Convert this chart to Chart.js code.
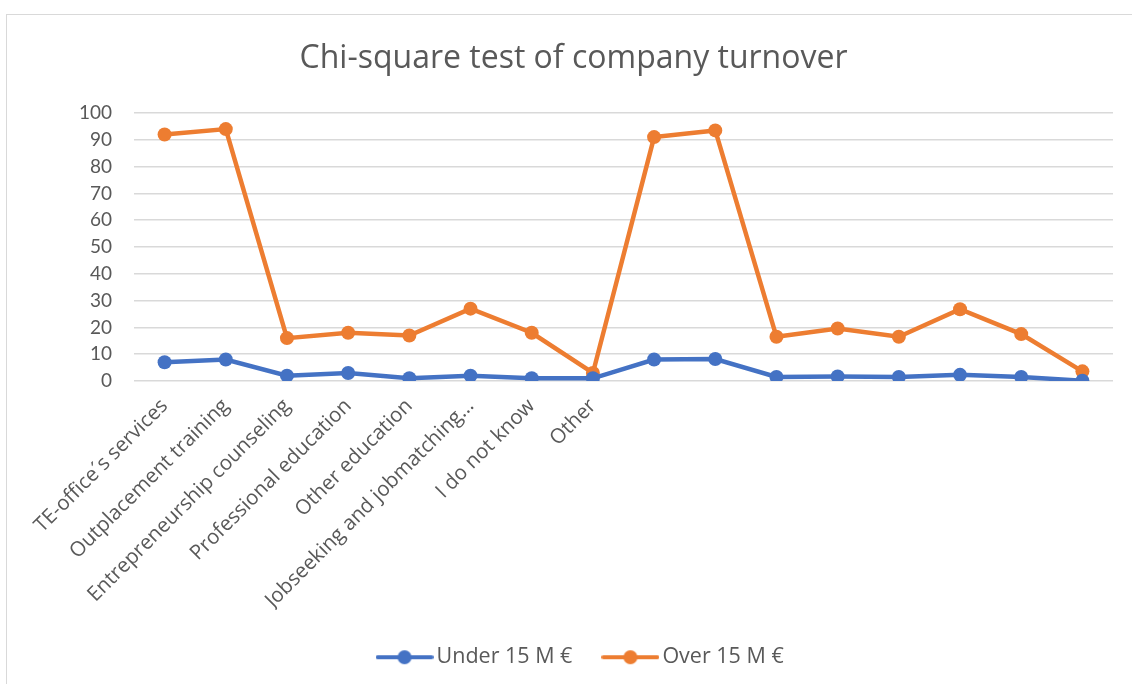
<!DOCTYPE html>
<html>
<head>
<meta charset="utf-8">
<script src="https://cdn.jsdelivr.net/npm/chart.js@4/dist/chart.umd.min.js"></script>
<style>
  html, body { margin: 0; padding: 0; background: #ffffff; }
  #wrap { position: relative; width: 1132px; height: 684px; overflow: hidden; background: #fff; }
  #frame { position: absolute; left: 6px; top: 14px; width: 1200px; height: 800px; border-left: 1px solid #D9D9D9; border-top: 1px solid #D9D9D9; box-sizing: border-box; }
  canvas { position: absolute; left: 0; top: 0; }
</style>
</head>
<body>
<div id="wrap">
  <div id="frame"></div>
  <canvas id="c" width="1132" height="684"></canvas>
</div>
<script>
const categories = [
  "TE-office\u00b4s services",
  "Outplacement training",
  "Entrepreneurship counseling",
  "Professional education",
  "Other education",
  "Jobseeking and jobmatching\u2026",
  "I do not know",
  "Other",
  "", "", "", "", "", "", "", ""
];
const under15 = [7, 8, 2, 3, 1, 2, 1, 1, 8, 8.2, 1.5, 1.7, 1.5, 2.3, 1.5, 0.1];
const over15  = [92, 94, 16, 18, 17, 27, 18, 3, 91, 93.5, 16.5, 19.6, 16.5, 26.8, 17.5, 3.6];
const seriesNames = ["Under 15 M \u20ac", "Over 15 M \u20ac"];
const yTicks = { min: 0, max: 100, step: 10 };

const BLUE = "#4472C4", ORANGE = "#ED7D31", TEXT = "#595959", GRID = "#D9D9D9";
const FONT = "Open Sans";
const NUMFONT = "Lato";

function legendImage(color) {
  const cv = document.createElement("canvas");
  cv.width = 58; cv.height = 16;
  const g = cv.getContext("2d");
  g.strokeStyle = color; g.lineWidth = 4; g.lineCap = "round";
  g.beginPath(); g.moveTo(2, 8); g.lineTo(56, 8); g.stroke();
  g.fillStyle = color;
  g.beginPath(); g.arc(29, 8, 7, 0, Math.PI * 2); g.fill();
  return cv;
}
const legendImgs = [legendImage(BLUE), legendImage(ORANGE)];

const PAD_BOTTOM = 6;
const CHART_BOTTOM = 381;
const LEGEND_SHIFT = 22;
const TITLE_SHIFT = 12;

const shiftBoxes = {
  id: "shiftBoxes",
  afterLayout(chart) {
    if (chart.legend) { chart.legend.left += LEGEND_SHIFT; chart.legend.right += LEGEND_SHIFT; }
    if (chart.titleBlock) { chart.titleBlock.left += TITLE_SHIFT; chart.titleBlock.right += TITLE_SHIFT; }
  }
};

new Chart(document.getElementById("c"), {
  type: "line",
  plugins: [shiftBoxes],
  data: {
    labels: categories,
    datasets: [
      { label: seriesNames[0], data: under15, borderColor: BLUE, backgroundColor: BLUE,
        borderWidth: 4.5, pointRadius: 7, pointBorderWidth: 0, pointBackgroundColor: BLUE, tension: 0 },
      { label: seriesNames[1], data: over15, borderColor: ORANGE, backgroundColor: ORANGE,
        borderWidth: 4.5, pointRadius: 7, pointBorderWidth: 0, pointBackgroundColor: ORANGE, tension: 0 }
    ]
  },
  options: {
    responsive: false,
    animation: false,
    layout: { padding: { left: 10, right: 19, top: 0, bottom: PAD_BOTTOM } },
    plugins: {
      tooltip: { enabled: false },
      title: {
        display: true,
        text: "Chi-square test of company turnover",
        color: TEXT,
        font: { family: FONT, size: 32, weight: "normal" },
        padding: { top: 40, bottom: 34.6 }
      },
      legend: {
        position: "bottom",
        labels: {
          color: TEXT,
          font: { family: FONT, size: 21.5 },
          usePointStyle: true,
          pointStyleWidth: 42.5,
          padding: 36.75,
          generateLabels: (chart) => chart.data.datasets.map((ds, i) => ({
            text: ds.label, fillStyle: ds.borderColor, strokeStyle: ds.borderColor,
            lineWidth: 0, pointStyle: legendImgs[i], datasetIndex: i, hidden: false, fontColor: TEXT
          }))
        }
      }
    },
    scales: {
      x: {
        offset: true,
        grid: { display: false },
        border: { display: false },
        ticks: { color: TEXT, font: { family: FONT, size: 20.5 }, maxRotation: 45, minRotation: 45, autoSkip: false, padding: 5 },
        afterFit: (scale) => {
          const lg = scale.chart.legend;
          const lh = lg ? lg.height : 0;
          scale.height = 684 - PAD_BOTTOM - lh - CHART_BOTTOM;
        }
      },
      y: {
        min: yTicks.min, max: yTicks.max,
        grid: { color: GRID, lineWidth: 1.5, drawTicks: false },
        border: { display: false },
        ticks: { stepSize: yTicks.step, color: TEXT, font: { family: NUMFONT, size: 19 }, padding: 22 },
        afterFit: (scale) => { scale.width = 124; }
      }
    }
  }
});
</script>
</body>
</html>
